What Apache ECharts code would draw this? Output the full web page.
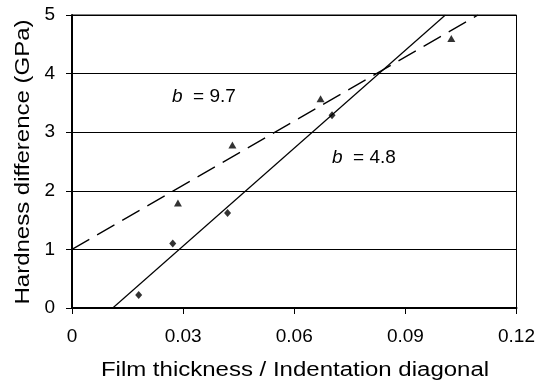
<!DOCTYPE html>
<html>
<head>
<meta charset="utf-8">
<script src="https://cdn.jsdelivr.net/npm/echarts@6/dist/echarts.min.js"></script>
<style>
html,body{margin:0;padding:0;background:#fff;}
#c{width:538px;height:385px;}
</style>
</head>
<body>
<div id="c"></div>
<script>
// Data
var diamondX = [0.018, 0.0272, 0.042, 0.0702];
var diamondY = [0.22, 1.10, 1.62, 3.29];
var triangleX = [0.0286, 0.0433, 0.0671, 0.1024];
var triangleY = [1.79, 2.78, 3.57, 4.60];
// Trend line end points (solid for diamonds, dashed for triangles)
var solidTrendX = [0.011, 0.1008];
var solidTrendY = [0, 5];
var dashedTrendX = [0, 0.1096];
var dashedTrendY = [1, 5];
var xTickLabels = ['0', '0.03', '0.06', '0.09', '0.12'];
var yTickLabels = ['0', '1', '2', '3', '4', '5'];
var xTitle = 'Film thickness / Indentation diagonal';
var yTitle = 'Hardness difference (GPa)';
var noteDashed = '9.7';
var noteSolid = '4.8';

function pairs(xs, ys) { return xs.map(function (x, i) { return [x, ys[i]]; }); }

var FONT = '"Liberation Sans", Arial, sans-serif';
var chart = echarts.init(document.getElementById('c'), null, {renderer: 'canvas'});
chart.setOption({
  backgroundColor: '#fff',
  animation: false,
  grid: {left: 72, right: 21, top: 15, bottom: 77, show: true, borderColor: '#000', borderWidth: 1, containLabel: false},
  xAxis: {
    type: 'value', min: 0, max: 0.12, interval: 0.03,
    axisLine: {show: true, onZero: false, lineStyle: {color: '#000', width: 2}},
    axisTick: {show: true, inside: false, length: 6, lineStyle: {color: '#000', width: 1}},
    axisLabel: {color: '#000', fontSize: 19, fontFamily: FONT, margin: 19,
      formatter: function (v) { return xTickLabels[Math.round(v / 0.03)]; }},
    splitLine: {show: false}
  },
  yAxis: {
    type: 'value', min: 0, max: 5, interval: 1,
    axisLine: {show: true, onZero: false, lineStyle: {color: '#000', width: 2}},
    axisTick: {show: true, inside: false, length: 6, lineStyle: {color: '#000', width: 1}},
    axisLabel: {color: '#000', fontSize: 19, fontFamily: FONT, margin: 17,
      formatter: function (v) { return yTickLabels[Math.round(v)]; }},
    splitLine: {show: true, lineStyle: {color: '#000', width: 1}}
  },
  series: [
    {type: 'line', data: pairs(dashedTrendX, dashedTrendY), showSymbol: false, symbol: 'none',
     lineStyle: {color: '#000', width: 1.3, type: [20, 9]}, z: 2},
    {type: 'line', data: pairs(solidTrendX, solidTrendY), showSymbol: false, symbol: 'none',
     lineStyle: {color: '#000', width: 1.2}, z: 2},
    {type: 'scatter', data: pairs(diamondX, diamondY), symbol: 'diamond', symbolSize: [7, 8],
     itemStyle: {color: '#000'}, z: 3},
    {type: 'scatter', data: pairs(triangleX, triangleY), symbol: 'triangle', symbolSize: [8, 7],
     itemStyle: {color: '#000'}, z: 3}
  ],
  graphic: [
    {type: 'text', x: 295, y: 370, scaleX: 1.2, scaleY: 1,
     style: {text: xTitle, font: '20px ' + FONT, fill: '#000', textAlign: 'center', textVerticalAlign: 'middle'}},
    {type: 'text', x: 23, y: 162, rotation: Math.PI / 2, scaleX: 1.2, scaleY: 1,
     style: {text: yTitle, font: '20px ' + FONT, fill: '#000', textAlign: 'center', textVerticalAlign: 'middle'}},
    {type: 'text', x: 172, y: 97,
     style: {text: '{i|b}  = ' + noteDashed, font: '19px ' + FONT, fill: '#000', textAlign: 'left', textVerticalAlign: 'middle',
       rich: {i: {fontStyle: 'italic', fontSize: 19, fontFamily: FONT, fill: '#000'}}}},
    {type: 'text', x: 332, y: 158,
     style: {text: '{i|b}  = ' + noteSolid, font: '19px ' + FONT, fill: '#000', textAlign: 'left', textVerticalAlign: 'middle',
       rich: {i: {fontStyle: 'italic', fontSize: 19, fontFamily: FONT, fill: '#000'}}}}
  ]
});
</script>
</body>
</html>
